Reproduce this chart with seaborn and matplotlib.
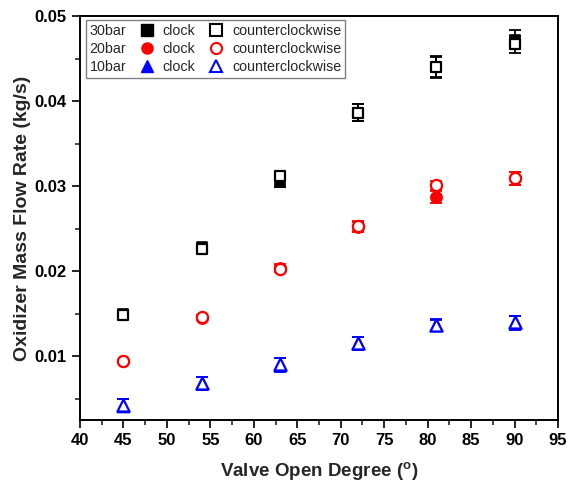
import matplotlib
matplotlib.use("Agg")
import matplotlib.pyplot as plt
from matplotlib.lines import Line2D
from matplotlib.ticker import MultipleLocator, FormatStrFormatter
import seaborn as sns
import pandas as pd

degrees = [45, 54, 63, 72, 81, 90]

bar30_clock = [0.0150, 0.0228, 0.0305, 0.0386, 0.0440, 0.0472]
bar30_clock_err = [0.0003, 0.0003, 0.0006, 0.0010, 0.0012, 0.0011]
bar30_ccw = [0.0149, 0.0226, 0.0312, 0.0386, 0.0440, 0.0467]
bar30_ccw_err = [0.0003, 0.0003, 0.0004, 0.0010, 0.0013, 0.0010]

bar20_clock = [0.0094, 0.0145, 0.0204, 0.0252, 0.0287, 0.0309]
bar20_clock_err = [0.0002, 0.0003, 0.0004, 0.0006, 0.0007, 0.0008]
bar20_ccw = [0.0094, 0.0146, 0.0203, 0.0253, 0.0301, 0.0309]
bar20_ccw_err = [0.0002, 0.0003, 0.0004, 0.0006, 0.0005, 0.0008]

bar10_clock = [0.0042, 0.0068, 0.0090, 0.0115, 0.0137, 0.0139]
bar10_clock_err = [0.0008, 0.0008, 0.0008, 0.0008, 0.0007, 0.0008]
bar10_ccw = [0.0043, 0.0069, 0.0091, 0.0116, 0.0137, 0.0140]
bar10_ccw_err = [0.0007, 0.0007, 0.0007, 0.0007, 0.0006, 0.0007]

pressures = ["30bar", "20bar", "10bar"]
colors = ["black", "#FF0000", "#0000FF"]
markers = ["s", "o", "^"]

sns.set_style("ticks")
plt.rcParams["font.family"] = ["Liberation Sans", "DejaVu Sans"]

fig = plt.figure(figsize=(5.68, 4.93), dpi=100)
ax = fig.add_axes([80 / 568, 1 - 420 / 493, 478 / 568, 404 / 493])

series = [
    ("30bar", bar30_clock, bar30_clock_err, bar30_ccw, bar30_ccw_err),
    ("20bar", bar20_clock, bar20_clock_err, bar20_ccw, bar20_ccw_err),
    ("10bar", bar10_clock, bar10_clock_err, bar10_ccw, bar10_ccw_err),
]

msize = {"s": 55, "o": 65, "^": 75}

for (name, c_v, c_e, w_v, w_e), col, mk in zip(series, colors, markers):
    df_c = pd.DataFrame({"deg": degrees, "flow": c_v, "err": c_e})
    df_w = pd.DataFrame({"deg": degrees, "flow": w_v, "err": w_e})
    ax.errorbar(df_c["deg"], df_c["flow"], yerr=df_c["err"], fmt="none",
                ecolor=col, elinewidth=1.3, capsize=4, capthick=1.3, zorder=2)
    sns.scatterplot(data=df_c, x="deg", y="flow", marker=mk, s=msize[mk],
                    color=col, edgecolor=col, linewidth=1.2, ax=ax, zorder=3)
    ax.errorbar(df_w["deg"], df_w["flow"], yerr=df_w["err"], fmt="none",
                ecolor=col, elinewidth=1.3, capsize=4, capthick=1.3, zorder=4)
    sns.scatterplot(data=df_w, x="deg", y="flow", marker=mk, s=msize[mk],
                    facecolor="white", edgecolor=col, linewidth=1.6, ax=ax, zorder=5)

ax.set_xlim(40, 95)
ax.set_ylim(0.0025, 0.05)
ax.xaxis.set_major_locator(MultipleLocator(5))
ax.xaxis.set_minor_locator(MultipleLocator(2.5))
ax.yaxis.set_major_locator(MultipleLocator(0.01))
ax.yaxis.set_minor_locator(MultipleLocator(0.005))
ax.yaxis.set_major_formatter(FormatStrFormatter("%.2f"))

for sp in ax.spines.values():
    sp.set_linewidth(1.4)
    sp.set_color("black")
    sp.set_visible(True)
ax.tick_params(which="major", direction="out", length=6, width=1.2, labelsize=12,
               top=False, right=False, colors="black")
ax.tick_params(which="minor", direction="out", length=3.5, width=1.2,
               top=False, right=False)
for lab in ax.get_xticklabels() + ax.get_yticklabels():
    lab.set_fontweight("bold")

ax.set_xlabel("Valve Open Degree ($^{\\mathregular{o}}$)", fontsize=13.5, fontweight="bold", labelpad=9)
ax.set_ylabel("Oxidizer Mass Flow Rate (kg/s)", fontsize=14, fontweight="bold", labelpad=3)

handles = []
labels = []
for col, mk, p in zip(colors, markers, pressures):
    handles.append(Line2D([], [], ls="none", marker=mk, markersize=8, color=col, markeredgecolor=col))
    labels.append(p)
for col, mk in zip(colors, markers):
    handles.append(Line2D([], [], ls="none", marker=mk, markersize=8, markerfacecolor="white",
                          markeredgecolor=col, markeredgewidth=1.5))
    labels.append("clock")
for _ in colors:
    handles.append(Line2D([], [], ls="none", marker=None))
    labels.append("counterclockwise")

leg = ax.legend(handles, labels, ncol=3, markerfirst=False, loc="upper left",
                bbox_to_anchor=(0.0125, 0.99), borderaxespad=0, fontsize=10.3,
                handlelength=0.6, handletextpad=1.15, columnspacing=0.8,
                labelspacing=0.3, borderpad=0.25, fancybox=False, framealpha=1,
                edgecolor="#808080")
leg.get_frame().set_linewidth(1.0)

# drop the empty handle slot of the last column so the frame hugs the text
try:
    cols = leg._legend_handle_box.get_children()
    for row in cols[-1].get_children():
        kids = row.get_children()
        row._children = [kids[0]]
except Exception:
    pass

fig.savefig("out.png", dpi=100)
